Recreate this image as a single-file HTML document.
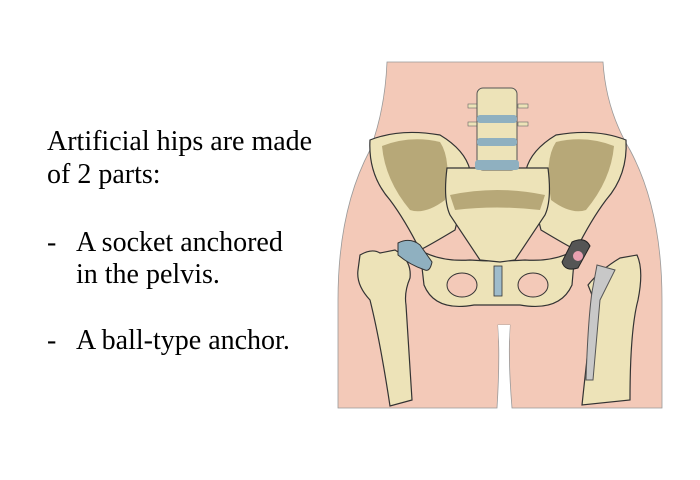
<!DOCTYPE html>
<html><head><style>
body{margin:0;width:700px;height:480px;background:#fff;overflow:hidden;position:relative}
.t{position:absolute;font-family:"Liberation Serif",serif;font-size:28px;color:#000;line-height:33px;white-space:nowrap}
</style></head><body>
<div class="t" style="left:47px;top:125px">Artificial hips are made<br>of 2 parts:</div>
<div class="t" style="left:47px;top:226px">-</div><div class="t" style="left:76px;top:226px">A socket anchored</div>
<div class="t" style="left:76px;top:258px">in the pelvis.</div>
<div class="t" style="left:47px;top:324px">-</div><div class="t" style="left:76px;top:324px">A ball-type anchor.</div>
<svg width="700" height="480" style="position:absolute;left:0;top:0">
<path d="M387 62 L603 62 Q606 110 630 150 Q662 210 662 300 L662 408 L512 408 Q508 360 510 325 L498 325 Q500 360 497 408 L338 408 L338 300 Q338 210 370 150 Q385 110 387 62Z" fill="#f3c9b8" stroke="#999" stroke-width="0.8"/>
<path d="M498 325 L510 325 L505 408 L503 408Z" fill="#fff"/>
<path d="M360 255 Q372 248 380 253 L395 250 Q412 260 410 278 Q404 292 406 305 L412 400 L390 406 Q380 340 370 300 Q356 285 358 270Z" fill="#ede3b8" stroke="#333" stroke-width="1.2"/>
<path d="M620 258 L637 255 Q644 270 638 300 Q630 330 630 400 L582 405 Q590 330 594 300 L588 285 Q600 270 620 258Z" fill="#ede3b8" stroke="#333" stroke-width="1.2"/>
<path d="M597 265 L615 270 L600 300 L593 380 L586 380 Q588 320 592 292Z" fill="#c8c8c8" stroke="#555"/>
<path d="M370 140 Q400 128 440 135 Q465 150 470 170 L455 230 Q430 245 420 250 Q405 220 390 200 Q368 175 370 140Z" fill="#ede3b8" stroke="#333" stroke-width="1.2"/>
<path d="M382 146 Q410 135 440 142 Q452 160 445 200 Q425 215 410 210 Q385 180 382 146Z" fill="#b7a878"/>
<path d="M626 140 Q596 128 556 135 Q531 150 526 170 L541 230 Q566 245 576 250 Q591 220 606 200 Q628 175 626 140Z" fill="#ede3b8" stroke="#333" stroke-width="1.2"/>
<path d="M614 146 Q586 135 556 142 Q544 160 551 200 Q571 215 586 210 Q611 180 614 146Z" fill="#b7a878"/>
<path d="M420 250 Q440 262 470 260 Q495 262 525 260 Q555 262 575 250 L572 285 Q560 312 520 305 L497 305 L474 305 Q435 312 424 285Z" fill="#ede3b8" stroke="#333" stroke-width="1.2"/>
<ellipse cx="462" cy="285" rx="15" ry="12" fill="#f3c9b8" stroke="#333"/>
<ellipse cx="533" cy="285" rx="15" ry="12" fill="#f3c9b8" stroke="#333"/>
<rect x="494" y="266" width="8" height="30" fill="#9fbccb" stroke="#333" stroke-width="0.8"/>
<path d="M447 168 L548 168 Q552 200 545 215 L515 260 L500 262 L480 260 L450 215 Q443 200 447 168Z" fill="#ede3b8" stroke="#333" stroke-width="1.2"/>
<path d="M450 195 Q497 185 545 195 L540 210 Q497 205 455 210Z" fill="#b7a878"/>
<rect x="468" y="104" width="10" height="4" fill="#ede3b8" stroke="#666" stroke-width="0.6"/>
<rect x="518" y="104" width="10" height="4" fill="#ede3b8" stroke="#666" stroke-width="0.6"/>
<rect x="468" y="122" width="10" height="4" fill="#ede3b8" stroke="#666" stroke-width="0.6"/>
<rect x="518" y="122" width="10" height="4" fill="#ede3b8" stroke="#666" stroke-width="0.6"/>
<rect x="477" y="88" width="40" height="82" rx="6" fill="#ede3b8" stroke="#555" stroke-width="1"/>
<rect x="477" y="115" width="40" height="8" rx="3" fill="#8fb0c0"/>
<rect x="477" y="138" width="40" height="8" rx="3" fill="#8fb0c0"/>
<rect x="475" y="160" width="44" height="10" rx="3" fill="#8fb0c0"/>
<path d="M398 243 Q410 237 420 245 L432 262 Q430 272 425 270 Q410 265 398 255Z" fill="#8fb0c0" stroke="#333"/>
<path d="M572 242 Q585 236 590 246 L578 268 Q565 272 562 262Z" fill="#555" stroke="#222"/>
<circle cx="578" cy="256" r="5" fill="#e8a0b0"/>
</svg>
</body></html>
